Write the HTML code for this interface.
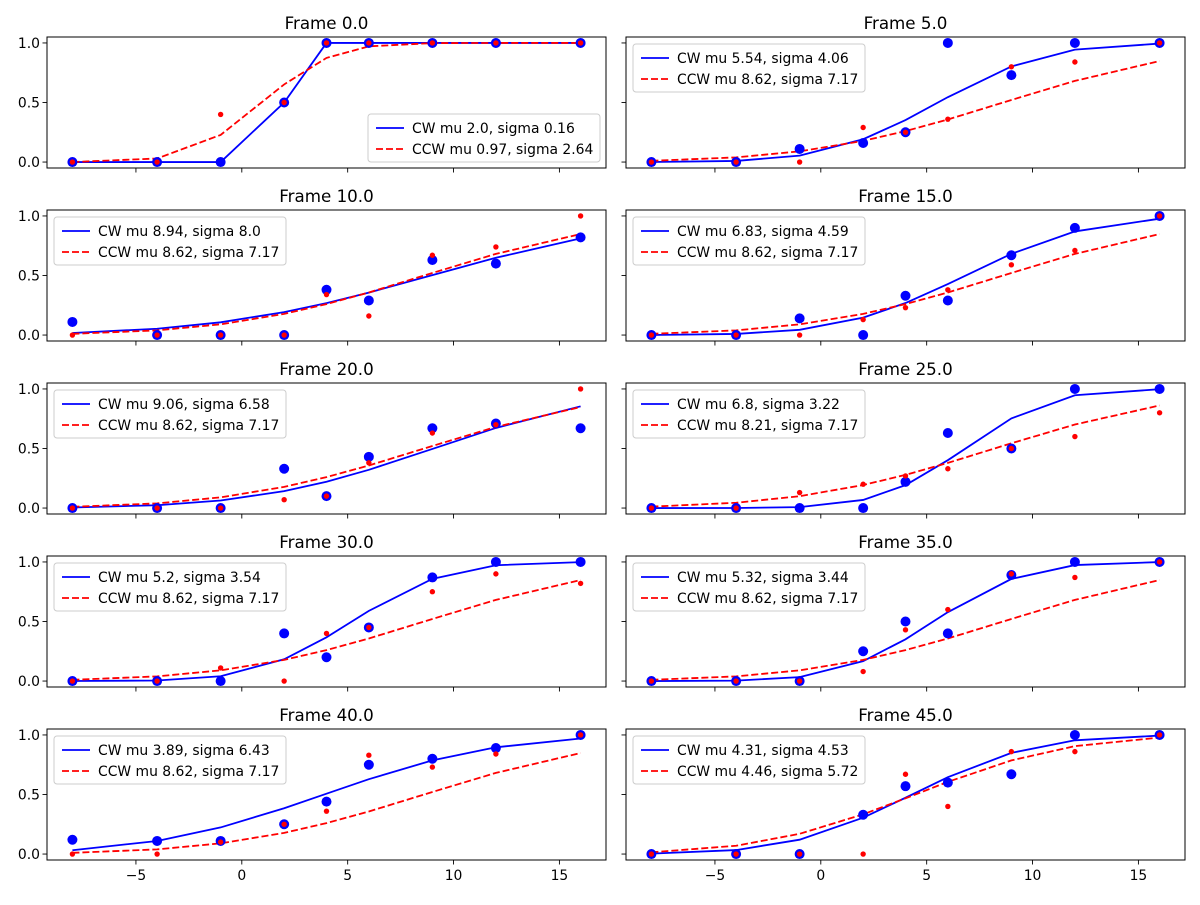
<!DOCTYPE html>
<html><head><meta charset="utf-8"><style>
body{margin:0;background:#fff;}
svg text{font-family:"DejaVu Sans","Liberation Sans",sans-serif;}
</style></head><body>
<svg id="fig" width="1200" height="900" xmlns="http://www.w3.org/2000/svg"></svg>
<script>
const xs = [-8,-4,-1,2,4,6,9,12,16];
const frames = ["0.0","5.0","10.0","15.0","20.0","25.0","30.0","35.0","40.0","45.0"];
const cwMu = [2.0,5.54,8.94,6.83,9.06,6.8,5.2,5.32,3.89,4.31];
const cwSigma = [0.16,4.06,8.0,4.59,6.58,3.22,3.54,3.44,6.43,4.53];
const ccwMu = [0.97,8.62,8.62,8.62,8.62,8.21,8.62,8.62,8.62,4.46];
const ccwSigma = [2.64,7.17,7.17,7.17,7.17,7.17,7.17,7.17,7.17,5.72];
const cwPts = [
 [0,0,0,0.5,1,1,1,1,1],
 [0,0,0.11,0.16,0.25,1,0.73,1,1],
 [0.11,0,0,0,0.38,0.29,0.63,0.6,0.82],
 [0,0,0.14,0,0.33,0.29,0.67,0.9,1],
 [0,0,0,0.33,0.1,0.43,0.67,0.71,0.67],
 [0,0,0,0,0.22,0.63,0.5,1,1],
 [0,0,0,0.4,0.2,0.45,0.87,1,1],
 [0,0,0,0.25,0.5,0.4,0.89,1,1],
 [0.12,0.11,0.11,0.25,0.44,0.75,0.8,0.89,1],
 [0,0,0,0.33,0.57,0.6,0.67,1,1]];
const ccwPts = [
 [0,0,0.4,0.5,1,1,1,1,1],
 [0,0,0,0.29,0.25,0.36,0.8,0.84,1],
 [0,0,0,0,0.34,0.16,0.67,0.74,1],
 [0,0,0,0.13,0.23,0.38,0.59,0.71,1],
 [0,0,0,0.07,0.1,0.38,0.63,0.7,1],
 [0,0,0.13,0.2,0.27,0.33,0.5,0.6,0.8],
 [0,0,0.11,0,0.4,0.45,0.75,0.9,0.82],
 [0,0,0,0.08,0.43,0.6,0.9,0.87,1],
 [0,0,0.1,0.25,0.36,0.83,0.73,0.84,1],
 [0,0,0,0,0.67,0.4,0.86,0.86,1]];
const xTicks = [-5,0,5,10,15];
const yTicks = [0,0.5,1];

const NS="http://www.w3.org/2000/svg";
const svg=document.getElementById('fig');
function el(t,a,p){const e=document.createElementNS(NS,t);for(const k in a)e.setAttribute(k,a[k]);(p||svg).appendChild(e);return e;}
function fmt(v){return v%1===0?v.toFixed(1):String(v);}
function erf(x){const s=x<0?-1:1;x=Math.abs(x);const t=1/(1+0.3275911*x);const y=1-(((((1.061405429*t-1.453152027)*t)+1.421413741)*t-0.284496736)*t+0.254829592)*t*Math.exp(-x*x);return s*y;}
function cdf(x,m,s){return 0.5*(1+erf((x-m)/(s*Math.SQRT2)));}
const W=559,H=131,colX=[47,626],rowY=[37,210,383,556,729];
const xmin=-9.2,xmax=17.2,ymin=-0.05,ymax=1.05;
for(let i=0;i<10;i++){
  const c=i%2,r=Math.floor(i/2);
  const L=colX[c],T=rowY[r];
  const sx=v=>L+(v-xmin)/(xmax-xmin)*W;
  const sy=v=>T+H-(v-ymin)/(ymax-ymin)*H;
  const g=el('g',{});
  
  
  const t=el('text',{x:L+W/2,y:T-8,'text-anchor':'middle','font-size':16.7,fill:'#000'},g);
  t.textContent='Frame '+frames[i];
  
  
  xTicks.forEach(v=>{
    el('line',{x1:sx(v),x2:sx(v),y1:T+H,y2:T+H+4.5,stroke:'#000','stroke-width':0.9},g);
    if(r===4){const tl=el('text',{x:sx(v),y:T+H+20,'text-anchor':'middle','font-size':13.9},g);tl.textContent=(v<0?'\u2212'+(-v):v);
      
      }
  });
  yTicks.forEach(v=>{
    el('line',{x1:L-4.5,x2:L,y1:sy(v),y2:sy(v),stroke:'#000','stroke-width':0.9},g);
    if(c===0){const tl=el('text',{x:L-7,y:sy(v)+5,'text-anchor':'end','font-size':13.9},g);tl.textContent=v.toFixed(1);
      
      }
  });
  const cw=xs.map(x=>sx(x)+','+sy(cdf(x,cwMu[i],cwSigma[i]))).join(' ');
  const ccw=xs.map(x=>sx(x)+','+sy(cdf(x,ccwMu[i],ccwSigma[i]))).join(' ');
  const l1=el('polyline',{points:cw,fill:'none',stroke:'#0000ff','stroke-width':1.8},g);
  
  
  const l2=el('polyline',{points:ccw,fill:'none',stroke:'#ff0000','stroke-width':1.8,'stroke-dasharray':'7,3'},g);
  
  
  xs.forEach((x,j)=>{const d=el('circle',{cx:sx(x),cy:sy(cwPts[i][j]),r:5,fill:'#0000ff'},g);
    
    });
  xs.forEach((x,j)=>{const d=el('circle',{cx:sx(x),cy:sy(ccwPts[i][j]),r:2.7,fill:'#ff0000'},g);
    
    });
  el('rect',{x:L,y:T,width:W,height:H,fill:'none',stroke:'#000','stroke-width':1},g);
  const lw=232,lh=48;
  const lx=i===0?L+W-lw-6:L+7, ly=i===0?T+H-lh-6:T+7;
  const lg=el('g',{},g);
  
  
  el('rect',{x:lx,y:ly,width:lw,height:lh,rx:3,fill:'#fff','fill-opacity':0.8,stroke:'#ccc','stroke-width':1},lg);
  el('line',{x1:lx+8,x2:lx+36,y1:ly+14,y2:ly+14,stroke:'#0000ff','stroke-width':1.8},lg);
  el('line',{x1:lx+8,x2:lx+36,y1:ly+35,y2:ly+35,stroke:'#ff0000','stroke-width':1.8,'stroke-dasharray':'7,3'},lg);
  const e1=el('text',{x:lx+44,y:ly+19,'font-size':13.9},lg);e1.textContent='CW mu '+fmt(cwMu[i])+', sigma '+fmt(cwSigma[i]);
  
  
  const e2=el('text',{x:lx+44,y:ly+40,'font-size':13.9},lg);e2.textContent='CCW mu '+fmt(ccwMu[i])+', sigma '+fmt(ccwSigma[i]);
  
  
}
</script>
</body></html>
